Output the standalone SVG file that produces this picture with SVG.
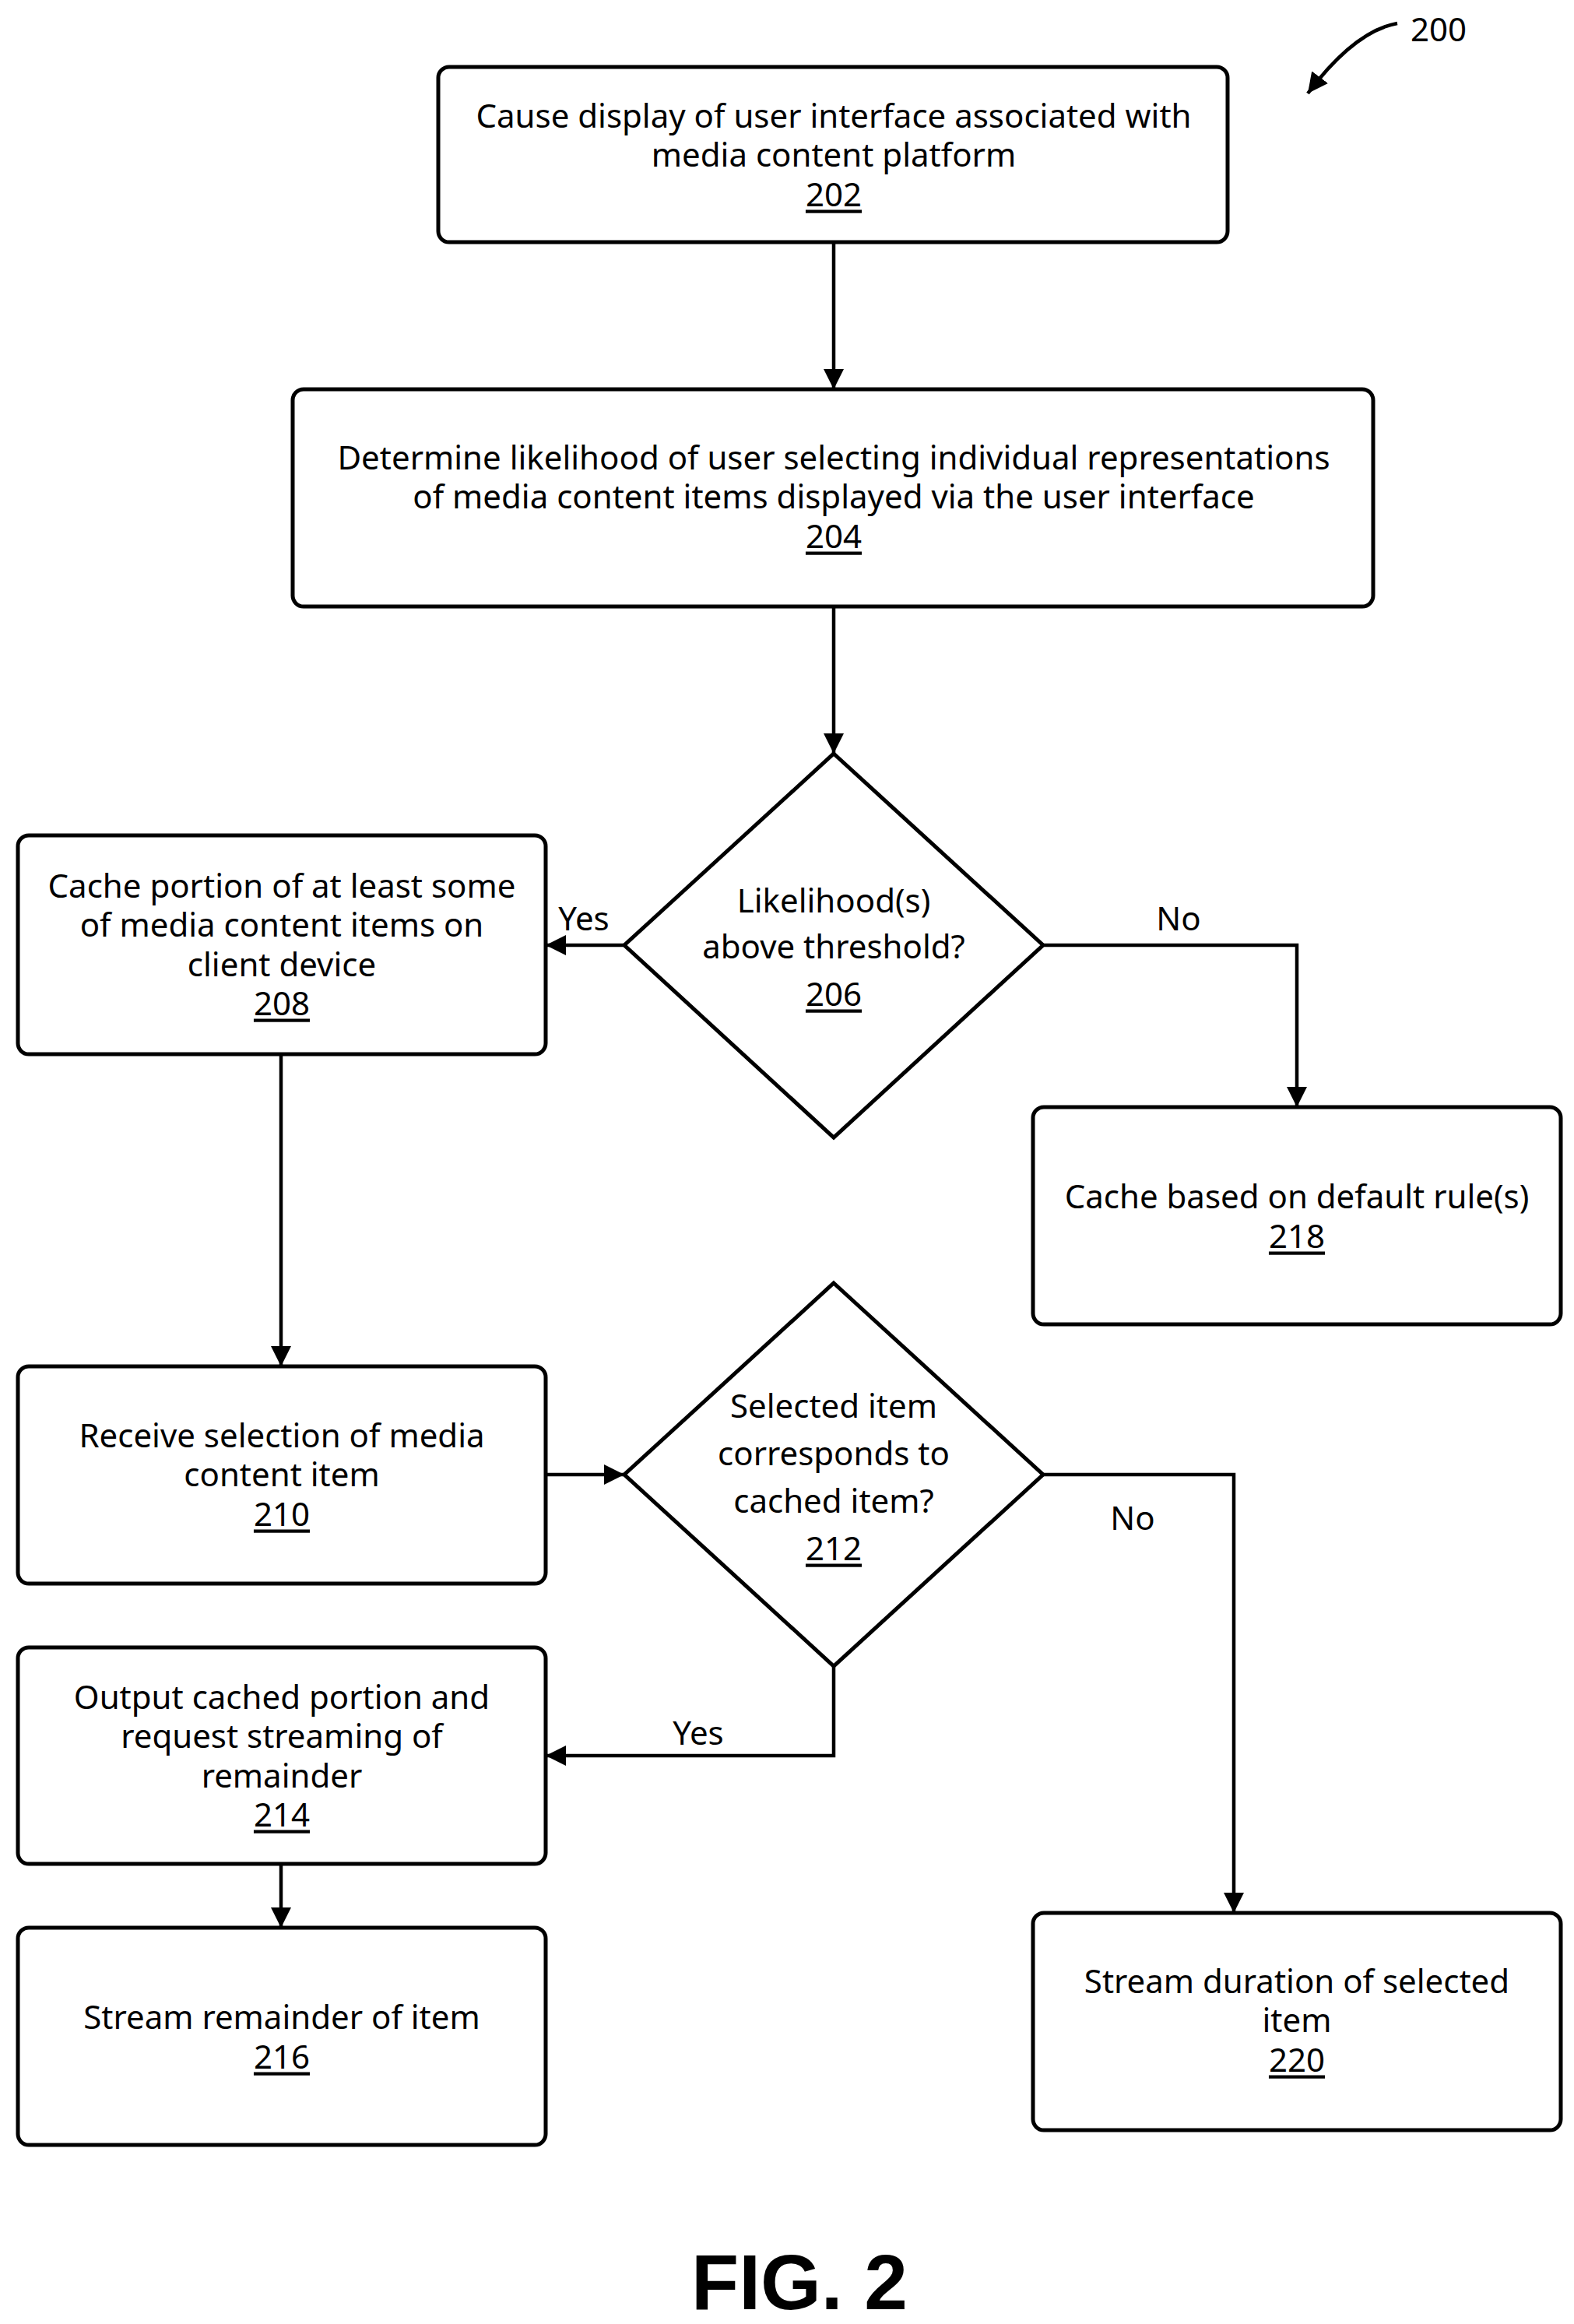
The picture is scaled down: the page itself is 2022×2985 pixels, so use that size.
<svg xmlns="http://www.w3.org/2000/svg" width="2022" height="2985" viewBox="0 0 2022 2985">
<style>
.b{fill:#fff;stroke:#000;stroke-width:5}
.c{fill:none;stroke:#000;stroke-width:4.5}
text{font-family:"Noto Sans","Open Sans",sans-serif;font-size:42px;text-anchor:middle;dominant-baseline:central;fill:#000}
.u{text-decoration:underline}
</style>
<defs>
<marker id="m" viewBox="0 0 10 10" refX="10" refY="5" markerWidth="26" markerHeight="26" orient="auto" markerUnits="userSpaceOnUse"><path d="M0,0L10,5L0,10z" fill="#000"/></marker></defs>
<rect width="2022" height="2985" fill="#fff"/>
<g id="n202"><rect class="b" x="563" y="86" width="1014" height="225" rx="14"/><text x="1071" y="147">Cause display of user interface associated with</text><text x="1071" y="197">media content platform</text><text class="u" x="1071" y="248">202</text></g>
<g id="n204"><rect class="b" x="376" y="500" width="1388" height="279" rx="14"/><text x="1071" y="586">Determine likelihood of user selecting individual representations</text><text x="1071" y="636">of media content items displayed via the user interface</text><text class="u" x="1071" y="687">204</text></g>
<g id="n206"><path class="b" d="M1071,968L1340,1214L1071,1461L802,1214Z"/><text x="1071" y="1155">Likelihood(s)</text><text x="1071" y="1214">above threshold?</text><text class="u" x="1071" y="1275">206</text></g>
<g id="n208"><rect class="b" x="23" y="1073" width="678" height="281" rx="14"/><text x="362" y="1136">Cache portion of at least some</text><text x="362" y="1186">of media content items on</text><text x="362" y="1237">client device</text><text class="u" x="362" y="1287">208</text></g>
<g id="n218"><rect class="b" x="1327" y="1422" width="678" height="279" rx="14"/><text x="1666" y="1535">Cache based on default rule(s)</text><text class="u" x="1666" y="1586">218</text></g>
<g id="n210"><rect class="b" x="23" y="1755" width="678" height="279" rx="14"/><text x="362" y="1842">Receive selection of media</text><text x="362" y="1892">content item</text><text class="u" x="362" y="1943">210</text></g>
<g id="n212"><path class="b" d="M1071,1648L1340,1894L1071,2140L802,1894Z"/><text x="1071" y="1804">Selected item</text><text x="1071" y="1865">corresponds to</text><text x="1071" y="1926">cached item?</text><text class="u" x="1071" y="1987">212</text></g>
<g id="n214"><rect class="b" x="23" y="2116" width="678" height="278" rx="14"/><text x="362" y="2178">Output cached portion and</text><text x="362" y="2228">request streaming of</text><text x="362" y="2279">remainder</text><text class="u" x="362" y="2329">214</text></g>
<g id="n216"><rect class="b" x="23" y="2476" width="678" height="279" rx="14"/><text x="362" y="2589">Stream remainder of item</text><text class="u" x="362" y="2640">216</text></g>
<g id="n220"><rect class="b" x="1327" y="2457" width="678" height="279" rx="14"/><text x="1666" y="2543">Stream duration of selected</text><text x="1666" y="2593">item</text><text class="u" x="1666" y="2644">220</text></g>
<g id="connectors">
<path class="c" marker-end="url(#m)" d="M1071,311V500"/>
<path class="c" marker-end="url(#m)" d="M1071,779V968"/>
<path class="c" marker-end="url(#m)" d="M802,1214H701"/>
<path class="c" marker-end="url(#m)" d="M1340,1214H1666V1422"/>
<path class="c" marker-end="url(#m)" d="M361,1354V1755"/>
<path class="c" marker-end="url(#m)" d="M701,1894H802"/>
<path class="c" marker-end="url(#m)" d="M1340,1894H1585V2457"/>
<path class="c" marker-end="url(#m)" d="M1071,2140V2255H701"/>
<path class="c" marker-end="url(#m)" d="M361,2394V2476"/>
<path class="c" marker-end="url(#m)" d="M1795,30Q1740,40 1680,120"/>
</g>
<text x="750" y="1178">Yes</text><text x="1514" y="1178">No</text><text x="1455" y="1948">No</text><text x="897" y="2224">Yes</text>
<text x="1848" y="36">200</text>
<text x="1027" y="2966" style="font-family:'Liberation Sans',sans-serif;font-weight:bold;font-size:100px;dominant-baseline:auto">FIG. 2</text>
</svg>
